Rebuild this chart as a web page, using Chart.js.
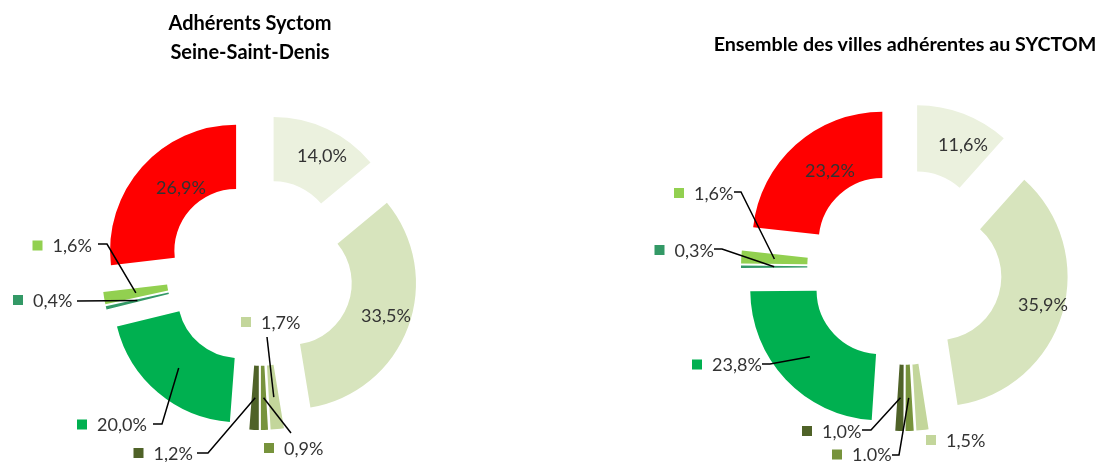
<!DOCTYPE html>
<html><head><meta charset="utf-8">
<script src="https://cdn.jsdelivr.net/npm/chart.js@4.4.0/dist/chart.umd.min.js"></script>
<style>
html,body{margin:0;padding:0;background:#fff;overflow:hidden;width:1102px;height:462px;}
#wrap{position:relative;width:1102px;height:462px;overflow:hidden;}
canvas{position:absolute;top:0;}
.title{position:absolute;font-family:Lato,sans-serif;font-weight:700;color:#000;text-align:center;white-space:nowrap;transform:translateX(-50%);}
</style></head><body>
<div id="wrap">
<canvas id="c1" width="520" height="462" style="left:0"></canvas>
<canvas id="c2" width="551" height="462" style="left:551px"></canvas>
<div class="title" style="left:250px;top:8px;font-size:20px;line-height:29px">Adhérents Syctom<br>Seine-Saint-Denis</div>
<div class="title" style="left:905px;top:32px;font-size:19.7px;line-height:24px">Ensemble des villes adhérentes au SYCTOM</div>
</div>
<script>
// ---- data ----
const categories = ['Catégorie 1','Catégorie 2','Catégorie 3','Catégorie 4','Catégorie 5','Catégorie 6','Catégorie 7','Catégorie 8','Catégorie 9'];
const valuesSSD = [14.0, 33.5, 1.7, 0.9, 1.2, 20.0, 0.4, 1.6, 26.9];
const valuesSyctom = [11.6, 35.9, 1.5, 1.0, 1.0, 23.8, 0.3, 1.6, 23.2];
const labelsSSD = ['14,0%','33,5%','1,7%','0,9%','1,2%','20,0%','0,4%','1,6%','26,9%'];
const labelsSyctom = ['11,6%','35,9%','1,5%','1.0%','1,0%','23,8%','0,3%','1,6%','23,2%'];

// ---- style ----
const colors = ['#EBF1DE','#D7E4BD','#C3D69B','#77933C','#4F6228','#00B050','#339966','#92D050','#FF0000'];
const TEXT = '#333333';

// label layout, relative to chart centre
const layoutSSD = [
  {inside:[62,-116]},
  {inside:[126,44]},
  {sq:[-14,50], line:[[7,65]]},
  {sq:[9,176], line:[[31,161]]},
  {sq:[-121.5,181], line:[[-63,181],[-52,181]]},
  {sq:[-178,152.5], line:[[-107,152],[-98,152]]},
  {sq:[-242,28], line:[[-183,29]]},
  {sq:[-222.5,-26.5], line:[[-162,-28],[-153,-28]]},
  {inside:[-79,-84]}
];
const layoutSyctom = [
  {inside:[58,-122]},
  {inside:[138,38]},
  {sq:[26,173]},
  {sq:[-68,187.5], line:[[-13,188],[-6,188]]},
  {sq:[-98,164], line:[[-43,163],[-34,163]]},
  {sq:[-208,97.5], line:[[-143,97],[-135,97]]},
  {sq:[-245.5,-17], line:[[-191,-18],[-183,-18]]},
  {sq:[-226,-74], line:[[-171,-75],[-164,-75]]},
  {inside:[-75,-96]}
];

const explodePlugin = {
  id: 'explode',
  afterDatasetUpdate(chart, args, opts) {
    const d = opts.distance || 0;
    args.meta.data.forEach(arc => {
      const mid = (arc.startAngle + arc.endAngle) / 2;
      arc.x += Math.cos(mid) * d;
      arc.y += Math.sin(mid) * d;
    });
  }
};

const labelPlugin = {
  id: 'sliceLabels',
  afterDatasetsDraw(chart, args, opts) {
    const ctx = chart.ctx;
    const a = chart.chartArea;
    const cx = (a.left + a.right) / 2, cy = (a.top + a.bottom) / 2;
    const arcs = chart.getDatasetMeta(0).data;
    const texts = opts.texts, layout = opts.layout;
    ctx.save();
    ctx.font = '18px Lato, sans-serif';
    ctx.textBaseline = 'middle';
    arcs.forEach((arc, i) => {
      const L = layout[i];
      if (!L) return;
      if (L.inside) {
        ctx.fillStyle = TEXT;
        ctx.textAlign = 'center';
        ctx.fillText(texts[i], cx + L.inside[0], cy + L.inside[1]);
        return;
      }
      const sx = cx + L.sq[0], sy = cy + L.sq[1];
      ctx.fillStyle = colors[i];
      ctx.fillRect(sx - 5, sy - 5, 10, 10);
      ctx.fillStyle = TEXT;
      ctx.textAlign = 'left';
      ctx.fillText(texts[i], sx + 15, sy + 1);
      if (L.line) {
        const mid = (arc.startAngle + arc.endAngle) / 2;
        const r = (arc.innerRadius + arc.outerRadius) / 2;
        const ax = arc.x + Math.cos(mid) * r, ay = arc.y + Math.sin(mid) * r;
        ctx.beginPath();
        ctx.strokeStyle = '#000';
        ctx.lineWidth = 1.5;
        ctx.moveTo(cx + L.line[0][0], cy + L.line[0][1]);
        for (let k = 1; k < L.line.length; k++) ctx.lineTo(cx + L.line[k][0], cy + L.line[k][1]);
        ctx.lineTo(ax, ay);
        ctx.stroke();
      }
    });
    ctx.restore();
  }
};

function makeChart(id, values, texts, layout, radius, explode, pad) {
  return new Chart(document.getElementById(id), {
    type: 'doughnut',
    data: {
      labels: categories,
      datasets: [{ data: values, backgroundColor: colors, borderWidth: 0 }]
    },
    options: {
      responsive: false,
      animation: false,
      radius: radius,
      cutout: '49%',
      layout: { padding: pad },
      events: [],
      plugins: {
        legend: { display: false },
        tooltip: { enabled: false },
        explode: { distance: explode },
        sliceLabels: { texts: texts, layout: layout }
      }
    },
    plugins: [explodePlugin, labelPlugin]
  });
}

makeChart('c1', valuesSSD, labelsSSD, layoutSSD, 126, 32, {top: 82, bottom: 0, left: 0, right: 0});
makeChart('c2', valuesSyctom, labelsSyctom, layoutSyctom, 130, 34, {top: 72, bottom: 0, left: 157, right: 0});
</script>
</body></html>
